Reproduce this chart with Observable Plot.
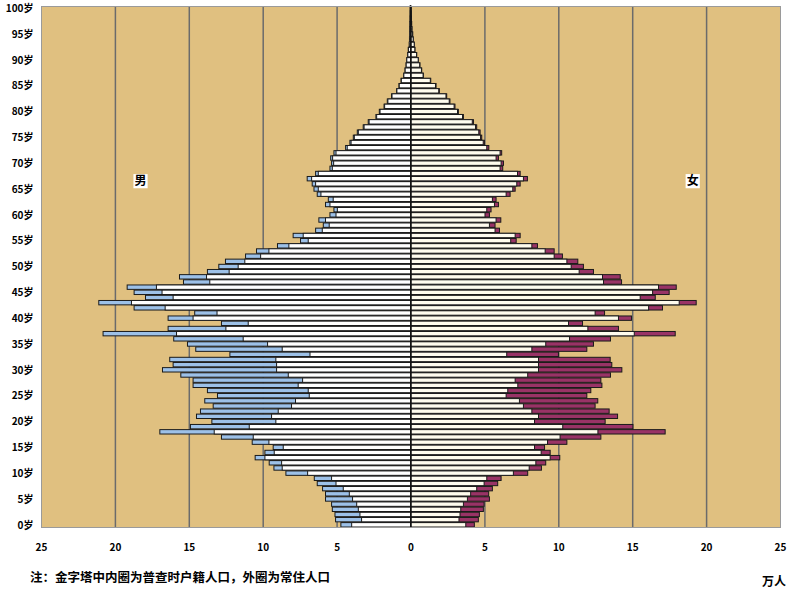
<!DOCTYPE html>
<html><head><meta charset="utf-8">
<script src="https://cdn.jsdelivr.net/npm/d3@7"></script>
<script src="https://cdn.jsdelivr.net/npm/@observablehq/plot@0.6"></script>
<style>
body{margin:0;background:#fff;font-family:"Noto Sans CJK SC",sans-serif;}
#wrap{position:relative;width:787px;height:592px;overflow:hidden;}
#note{position:absolute;left:30px;top:570px;font-size:12.5px;line-height:14px;font-weight:bold;color:#000;white-space:nowrap;}
#unit{position:absolute;left:762px;top:574px;font-size:12px;line-height:14px;font-weight:bold;color:#000;white-space:nowrap;}
</style></head><body>
<div id="wrap"><div id="chart"></div>
<div id="note">注：金字塔中内圈为普查时户籍人口，外圈为常住人口</div>
<div id="unit">万人</div></div>
<script>
const ages = d3.range(0, 101);
const maleResident = [4.71,5.07,5.11,5.29,5.34,5.75,5.75,5.95,6.31,6.51,
8.43,9.24,9.56,10.51,9.85,9.29,10.71,12.79,16.96,14.89,
13.44,14.48,14.21,13.35,13.92,13.06,13.74,14.71,14.71,15.54,
16.78,16.06,16.29,12.22,14.53,15.09,16.02,20.80,16.40,12.79,
16.40,14.60,18.70,21.09,17.93,18.70,19.17,15.36,15.63,13.74,
12.97,12.52,11.16,10.42,9.00,7.44,7.94,6.42,5.90,6.20,
5.45,5.18,5.75,5.56,6.31,6.53,6.65,6.99,6.42,5.45,
5.34,5.40,5.18,4.39,4.10,3.87,3.60,3.20,2.86,2.34,
2.11,1.79,1.57,1.28,0.94,0.78,0.64,0.46,0.37,0.30,
0.26,0.19,0.15,0.08,0.07,0.05,0.05,0.04,0.03,0.03,0.02];
const maleRegistered = [3.98,3.31,3.42,3.53,3.64,3.92,4.14,4.55,5.04,5.34,
6.96,8.68,8.72,9.85,9.22,8.61,9.58,10.64,13.28,10.91,
9.11,9.40,8.95,8.05,7.78,6.85,6.92,7.60,7.30,8.27,
9.06,9.06,9.11,6.80,8.68,9.67,11.32,15.83,12.49,10.98,
14.71,13.09,16.60,18.88,16.06,16.81,17.19,13.58,13.80,12.27,
11.66,11.21,10.14,9.58,8.23,6.92,7.26,5.97,5.50,5.75,
5.04,4.95,5.45,5.23,6.06,6.24,6.42,6.69,6.24,5.29,
5.20,5.27,5.04,4.28,4.02,3.80,3.53,3.14,2.80,2.29,
2.06,1.75,1.53,1.25,0.92,0.76,0.62,0.45,0.36,0.29,
0.25,0.18,0.14,0.08,0.06,0.05,0.04,0.04,0.03,0.02,0.02];
const femaleResident = [4.32,4.59,4.66,4.93,4.98,5.34,5.29,5.54,5.90,6.13,
7.93,8.86,9.15,10.10,9.45,9.07,10.58,12.88,17.23,15.05,
13.17,14.01,13.44,12.49,12.67,11.93,12.20,12.95,12.88,13.53,
14.30,13.62,13.51,10.01,11.93,12.38,13.53,17.91,14.07,11.64,
14.95,13.13,17.05,19.33,16.56,17.50,17.98,14.28,14.19,12.38,
11.70,11.32,10.28,9.72,8.59,7.15,7.42,6.02,5.72,6.11,
5.34,5.45,5.95,5.79,6.74,7.08,7.42,7.91,7.42,6.24,
6.29,5.95,6.17,5.30,5.00,4.82,4.71,4.48,4.26,3.58,
3.24,3.01,2.67,2.45,1.95,1.73,1.37,0.87,0.76,0.64,
0.53,0.42,0.30,0.26,0.19,0.15,0.10,0.08,0.06,0.04,0.03];
const femaleRegistered = [3.74,3.28,3.35,3.40,3.58,3.85,4.07,4.48,4.98,5.16,
6.96,8.03,8.48,9.45,8.84,8.39,9.27,10.12,12.68,10.30,
8.39,8.66,8.21,7.64,7.37,6.47,6.58,7.26,7.08,7.93,
8.66,8.66,8.66,6.51,8.21,9.15,10.76,15.14,12.00,10.69,
14.07,12.49,16.11,18.18,15.54,16.38,16.78,13.06,12.99,11.41,
10.87,10.58,9.72,9.11,8.21,6.78,7.08,5.72,5.34,5.79,
5.04,5.16,5.68,5.54,6.47,6.92,7.19,7.64,7.24,6.06,
6.13,5.79,6.06,5.16,4.92,4.74,4.62,4.40,4.18,3.52,
3.18,2.95,2.62,2.40,1.91,1.69,1.34,0.85,0.74,0.62,
0.52,0.41,0.29,0.25,0.18,0.14,0.09,0.07,0.05,0.04,0.02];
const xTicks = [-25,-20,-15,-10,-5,0,5,10,15,20,25];
const gridX = [-20,-15,-10,-5,5,10,15,20];
const yTicks = d3.range(0, 101, 5);
const sexLabels = [{t:"男", x:-18.3, age:67},{t:"女", x:19.06, age:67}];

const blue = "#9DC1E8", plum = "#993366", tan = "#E0C080";

const resident = [], registered = [];
ages.forEach((a, i) => {
  resident.push({age:a, sex:"男", v:-maleResident[i]});
  resident.push({age:a, sex:"女", v:femaleResident[i]});
  registered.push({age:a, sex:"男", v:-maleRegistered[i]});
  registered.push({age:a, sex:"女", v:femaleRegistered[i]});
});

const chart = Plot.plot({
  width: 787, height: 560,
  marginLeft: 41, marginRight: 7, marginTop: 6, marginBottom: 33,
  style: {fontFamily: '"Noto Sans CJK SC", sans-serif', fontSize: "10px", fontWeight: "bold", color: "#000", background: "#fff"},
  x: {domain: [-25, 25], ticks: xTicks, tickFormat: d => Math.abs(d), tickSize: 0, tickPadding: 16, label: null},
  y: {domain: d3.range(100, -1, -1), paddingInner: 0.15, paddingOuter: 0, round: false, ticks: yTicks, tickFormat: d => d + "岁", tickSize: 0, tickPadding: 8, label: null},
  marks: [
    Plot.frame({fill: tan, stroke: null}),
    Plot.ruleX(gridX, {stroke: "#6b6b6b", strokeWidth: 1.5}),
    Plot.barX(resident, {x: "v", y: "age", fill: d => d.sex === "男" ? blue : plum, stroke: "#1a1a1a", strokeWidth: 1}),
    Plot.barX(registered, {x: "v", y: "age", fill: d => d.sex === "男" ? "#ffffff" : "#FFFCEE", stroke: "#1a1a1a", strokeWidth: 1}),
    Plot.ruleX([0], {stroke: "#111", strokeWidth: 1.5}),
    Plot.frame({stroke: "#9a9a9a", strokeWidth: 1}),
    Plot.dot(sexLabels, {x: "x", y: "age", symbol: "square", r: 8, fill: "#fff", stroke: null, dy: 2}),
    Plot.text(sexLabels, {x: "x", y: "age", text: "t", fontSize: 12, fontWeight: "bold", fill: "#000", dy: 2})
  ]
});
document.getElementById("chart").appendChild(chart);
</script>
</body></html>
